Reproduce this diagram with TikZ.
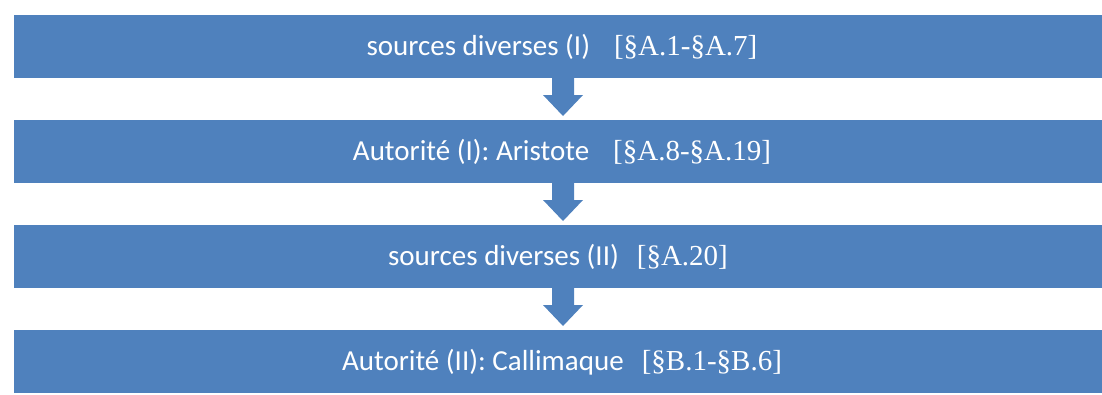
\documentclass[tikz,border=0pt]{standalone}
\usepackage{fontspec}
\setmainfont{Carlito}
\newfontfamily\brfont{Liberation Serif}
\usetikzlibrary{calc}
\definecolor{boxblue}{HTML}{4F81BD}
\newcommand\flowarrow[2]{%
  \fill[arr] ($(#1.south -| ax)+(-11,-1)$) -- ($(#1.south -| ax)+(-11,17)$)
    -- ($(#1.south -| ax)+(-20,17)$) -- ($(#2.north -| ax)+(0,-4)$)
    -- ($(#1.south -| ax)+(20,17)$) -- ($(#1.south -| ax)+(11,17)$)
    -- ($(#1.south -| ax)+(11,-1)$) -- cycle;}
\begin{document}
\begin{tikzpicture}[x=1pt,y=-1pt,
  box/.style={fill=boxblue,draw=none,minimum width=1088.5pt,minimum height=63pt,inner sep=0pt,outer sep=0pt},
  lbl/.style={text=white,anchor=base,inner sep=0pt,font=\fontsize{29}{34}\selectfont},
  arr/.style={fill=boxblue}]
\useasboundingbox (0,0) rectangle (1102,394);
\node[box] (b1) at (557.75,46.5) {};
\node[box] (b2) at (557.75,151.5) {};
\node[box] (b3) at (557.75,256.5) {};
\node[box] (b4) at (557.75,361.5) {};
\coordinate (ax) at (563,0);
\flowarrow{b1}{b2}
\flowarrow{b2}{b3}
\flowarrow{b3}{b4}
\node[lbl] (t1) at (562,55) {sources diverses (I)\hspace{24pt}{\brfont [§A.1-§A.7]}};
\node[lbl] (t2) at (562,160) {Autorité (I): Aristote\hspace{24pt}{\brfont [§A.8-§A.19]}};
\node[lbl] (t3) at (558,265) {sources diverses (II)\hspace{18pt}{\brfont [§A.20]}};
\node[lbl] (t4) at (562,370) {Autorité (II): Callimaque\hspace{18pt}{\brfont [§B.1-§B.6]}};
\end{tikzpicture}
\end{document}
